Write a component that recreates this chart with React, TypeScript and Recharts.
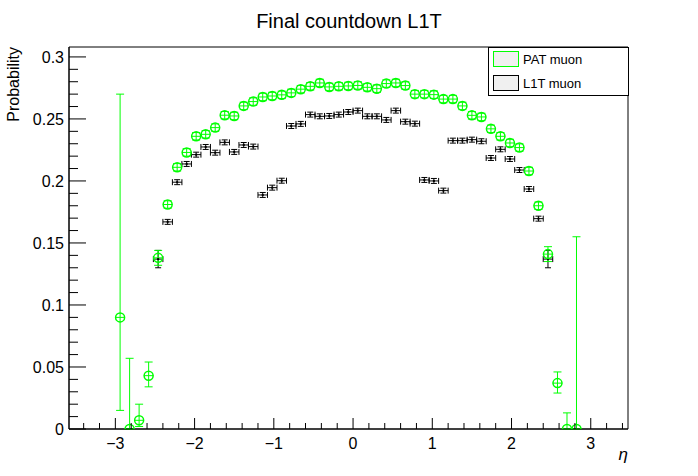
import React from "react";
import { ScatterChart, Scatter, XAxis, YAxis, ErrorBar, ReferenceArea } from "recharts";

const etaCenters = [
  -2.94, -2.82, -2.7, -2.58, -2.46, -2.34, -2.22, -2.1, -1.98, -1.86,
  -1.74, -1.62, -1.5, -1.38, -1.26, -1.14, -1.02, -0.9, -0.78, -0.66,
  -0.54, -0.42, -0.3, -0.18, -0.06, 0.06, 0.18, 0.3, 0.42, 0.54,
  0.66, 0.78, 0.9, 1.02, 1.14, 1.26, 1.38, 1.5, 1.62, 1.74,
  1.86, 1.98, 2.1, 2.22, 2.34, 2.46, 2.58, 2.7, 2.82,
];
const patValues = [
  0.09, 0, 0.007, 0.043, 0.138, 0.181, 0.211, 0.223, 0.236, 0.2376,
  0.243, 0.253, 0.2524, 0.2605, 0.264, 0.2677, 0.2685, 0.2694, 0.271, 0.274,
  0.2763, 0.279, 0.2758, 0.2763, 0.2766, 0.277, 0.2755, 0.2744, 0.2785, 0.279,
  0.2769, 0.27, 0.27, 0.2696, 0.266, 0.266, 0.2605, 0.2529, 0.2516, 0.242,
  0.236, 0.2306, 0.2269, 0.208, 0.18, 0.141, 0.037, 0, 0,
];
const patErrLow = [
  0.075, 0, 0.005, 0.009, 0.006, 0.003, 0.003, 0.003, 0.003, 0.003,
  0.003, 0.003, 0.003, 0.003, 0.003, 0.003, 0.003, 0.003, 0.003, 0.003,
  0.003, 0.003, 0.003, 0.003, 0.003, 0.003, 0.003, 0.003, 0.003, 0.003,
  0.003, 0.003, 0.003, 0.003, 0.003, 0.003, 0.003, 0.003, 0.003, 0.003,
  0.003, 0.003, 0.003, 0.003, 0.003, 0.006, 0.008, 0, 0,
];
const patErrHigh = [
  0.18, 0.057, 0.013, 0.011, 0.006, 0.003, 0.003, 0.003, 0.003, 0.003,
  0.003, 0.003, 0.003, 0.003, 0.003, 0.003, 0.003, 0.003, 0.003, 0.003,
  0.003, 0.003, 0.003, 0.003, 0.003, 0.003, 0.003, 0.003, 0.003, 0.003,
  0.003, 0.003, 0.003, 0.003, 0.003, 0.003, 0.003, 0.003, 0.003, 0.003,
  0.003, 0.003, 0.003, 0.003, 0.003, 0.006, 0.009, 0.013, 0.155,
];
const l1tValues: (number | null)[] = [
  null, null, null, null, 0.137, 0.167, 0.199, 0.2137, 0.2212, 0.2274,
  0.2228, 0.2311, 0.2234, 0.229, 0.2277, 0.1887, 0.1946, 0.2002, 0.2443, 0.246,
  0.2535, 0.2521, 0.2524, 0.2535, 0.2556, 0.2567, 0.2521, 0.2521, 0.2492, 0.2567,
  0.2478, 0.2462, 0.2008, 0.2, 0.1922, 0.2325, 0.2325, 0.2333, 0.232, 0.2185,
  0.2255, 0.2177, 0.2088, 0.1935, 0.1696, 0.137, null, null, null,
];
const l1tErr = [
  0, 0, 0, 0, 0.007, 0.002, 0.002, 0.002, 0.002, 0.002,
  0.002, 0.002, 0.002, 0.002, 0.002, 0.002, 0.002, 0.002, 0.002, 0.002,
  0.002, 0.002, 0.002, 0.002, 0.002, 0.002, 0.002, 0.002, 0.002, 0.002,
  0.002, 0.002, 0.002, 0.002, 0.002, 0.002, 0.002, 0.002, 0.002, 0.002,
  0.002, 0.002, 0.002, 0.002, 0.002, 0.007, 0, 0, 0,
];
const binHalfWidth = 0.06;
const xTicks = [
  -3.4, -3.2, -3, -2.8, -2.6, -2.4, -2.2, -2, -1.8, -1.6, -1.4, -1.2, -1, -0.8, -0.6, -0.4, -0.2,
  0, 0.2, 0.4, 0.6, 0.8, 1, 1.2, 1.4, 1.6, 1.8, 2, 2.2, 2.4, 2.6, 2.8, 3, 3.2, 3.4,
];
const yTicks = [
  0, 0.01, 0.02, 0.03, 0.04, 0.05, 0.06, 0.07, 0.08, 0.09, 0.1, 0.11, 0.12, 0.13, 0.14, 0.15,
  0.16, 0.17, 0.18, 0.19, 0.2, 0.21, 0.22, 0.23, 0.24, 0.25, 0.26, 0.27, 0.28, 0.29, 0.3,
];
const X_MIN = -3.585;
const X_MAX = 3.47;
const Y_MAX = 0.308;

const patData = etaCenters.map((x, i) => ({
  x,
  y: patValues[i],
  ey: [patErrLow[i], patErrHigh[i]],
  ex: binHalfWidth,
}));
const l1tData = etaCenters
  .map((x, i) => ({ x, y: l1tValues[i], ey: l1tErr[i], ex: binHalfWidth }))
  .filter((d) => d.y !== null);

const FONT = "'Liberation Sans', Arial, sans-serif";

const XTick = (props: any) => {
  const { x, y, payload } = props;
  const v = payload.value;
  const major = Math.abs(v - Math.round(v)) < 1e-6;
  return (
    <g>
      <line x1={x} x2={x} y1={y} y2={y - (major ? 11 : 6)} stroke="#000" />
      {major && (
        <text x={x} y={y + 20} textAnchor="middle" fontSize={16} fontFamily={FONT} fill="#000">
          {v < 0 ? "\u2212" + Math.abs(v) : String(v)}
        </text>
      )}
    </g>
  );
};

const YTick = (props: any) => {
  const { x, y, payload } = props;
  const v = payload.value;
  const major = Math.abs(v * 20 - Math.round(v * 20)) < 1e-6;
  return (
    <g>
      <line x1={x} x2={x + (major ? 17 : 9)} y1={y} y2={y} stroke="#000" />
      {major && (
        <text x={x - 5} y={y + 6} textAnchor="end" fontSize={16} fontFamily={FONT} fill="#000">
          {String(Math.round(v * 100) / 100)}
        </text>
      )}
    </g>
  );
};

const GreenMarker = (props: any) => {
  const { cx, cy } = props;
  return <circle cx={cx} cy={cy} r={4.5} fill="none" stroke="#00ff00" strokeWidth={1.5} />;
};
const BlackMarker = (props: any) => {
  const { cx, cy } = props;
  return <rect x={cx - 1} y={cy - 1} width={2} height={2} fill="#000" />;
};

export default function App() {
  return (
    <div style={{ position: "fixed", left: 0, top: 0, width: 698, height: 476, background: "#fff" }}>
      <ScatterChart
        width={698}
        height={476}
        margin={{ top: 47, right: 70, bottom: 17, left: 9 }}
      >
        <XAxis
          type="number"
          dataKey="x"
          domain={[X_MIN, X_MAX]}
          ticks={xTicks}
          allowDataOverflow
          interval={0}
          tickSize={0}
          tickMargin={0}
          height={30}
          axisLine={{ stroke: "#000" }}
          tick={<XTick />}
        />
        <YAxis
          type="number"
          dataKey="y"
          domain={[0, Y_MAX]}
          ticks={yTicks}
          allowDataOverflow
          interval={0}
          tickSize={0}
          tickMargin={0}
          width={60}
          axisLine={{ stroke: "#000" }}
          tick={<YTick />}
        />
        <ReferenceArea
          x1={X_MIN}
          x2={X_MAX}
          y1={0}
          y2={Y_MAX}
          fill="none"
          stroke="#000"
          strokeWidth={1}
          fillOpacity={0}
          ifOverflow="visible"
        />
        <Scatter data={l1tData} isAnimationActive={false} shape={<BlackMarker />}>
          <ErrorBar dataKey="ey" direction="y" width={3} stroke="#000" strokeWidth={1} />
          <ErrorBar dataKey="ex" direction="x" width={3} stroke="#000" strokeWidth={1} />
        </Scatter>
        <Scatter data={patData} isAnimationActive={false} shape={<GreenMarker />}>
          <ErrorBar dataKey="ey" direction="y" width={4} stroke="#00ff00" strokeWidth={1} />
          <ErrorBar dataKey="ex" direction="x" width={0} stroke="#00ff00" strokeWidth={1} />
        </Scatter>
      </ScatterChart>
      <svg
        width={698}
        height={476}
        style={{ position: "absolute", left: 0, top: 0, pointerEvents: "none" }}
      >
        <text x={349} y={28} textAnchor="middle" fontSize={20} fontFamily={FONT} fill="#000">
          Final countdown L1T
        </text>
        <text
          x={19}
          y={47}
          textAnchor="end"
          fontSize={16}
          fontFamily={FONT}
          fill="#000"
          transform="rotate(-90 19 47)"
        >
          Probability
        </text>
        <text x={628} y={460} textAnchor="end" fontSize={17} fontFamily={FONT} fontStyle="italic" fill="#000">
          η
        </text>
        <rect x={488.5} y={47.5} width={140} height={48} fill="#fff" stroke="#000" />
        <rect x={493.5} y={51.5} width={25} height={15} fill="#f0f0f0" stroke="#00ff00" />
        <text x={523} y={64} fontSize={13} fontFamily={FONT} fill="#000">
          PAT muon
        </text>
        <rect x={493.5} y={75.5} width={25} height={15} fill="#f0f0f0" stroke="#000" />
        <text x={523} y={88} fontSize={13} fontFamily={FONT} fill="#000">
          L1T muon
        </text>
      </svg>
    </div>
  );
}
